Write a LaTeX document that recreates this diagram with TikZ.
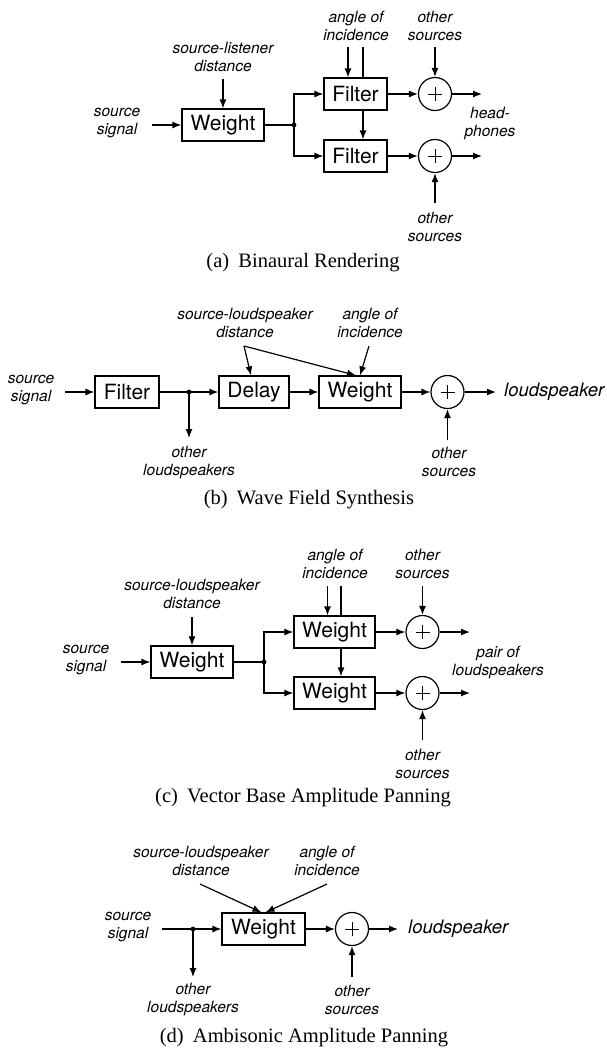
\documentclass[tikz,border=0pt]{standalone}
\usepackage{fontspec}
\setmainfont{Liberation Serif}
\setsansfont{TeX Gyre Heros}
\usetikzlibrary{arrows.meta}
\tikzset{
  lbl/.style={font=\fontsize{15.5}{18}\selectfont\sffamily\itshape, align=center, inner sep=0pt},
  biglbl/.style={font=\fontsize{18.5}{22}\selectfont\sffamily\itshape, inner sep=0pt, anchor=west},
  blk/.style={draw, line width=1.2pt, minimum height=32pt, inner sep=0pt, font=\fontsize{21}{24}\selectfont\sffamily},
  sumc/.style={draw, circle, line width=1.2pt, minimum size=33pt, inner sep=0pt},
  jdot/.style={circle, fill, minimum size=4.8pt, inner sep=0pt},
  capt/.style={font=\fontsize{20.5}{24}\selectfont, inner sep=0pt},
  arr/.style={line width=1.2pt, -{Latex[length=9pt,width=7pt]}},
  ln/.style={line width=1.2pt},
  plus/.style={line width=0.6pt}
}
\newcommand{\plussign}[1]{\draw[plus] (#1.center) +(-7,0) -- +(7,0) (#1.center) +(0,-7) -- +(0,7);}
\begin{document}
\begin{tikzpicture}[x=1pt,y=-1pt]
\useasboundingbox (0,0) rectangle (606,1050);
% ---------------- (a)
\node[lbl] (ssA) at (117,123) {source\\signal};
\node[blk, minimum width=82pt] (WA) at (223,125) {Weight};
\node[lbl] (dA) at (223,57) {source-listener\\distance};
\node[jdot] (jA) at (294,125) {};
\node[blk, minimum width=63pt] (FA1) at (355.5,94) {Filter};
\node[blk, minimum width=63pt] (FA2) at (355.5,156) {Filter};
\node[lbl] (angA) at (356,26) {angle of\\incidence};
\node[lbl] (osA1) at (435,26) {other\\sources};
\node[sumc] (SA1) at (435,94) {};
\node[sumc] (SA2) at (435,156) {};
\node[lbl] (osA2) at (435,227) {other\\sources};
\node[lbl] (hp) at (490,123) {head-\\phones};
\node[capt] (capA) at (303,263) {(a)\hspace{0.45em}Binaural Rendering};
\plussign{SA1}\plussign{SA2}
\coordinate (ssAo) at (152,125);
\coordinate (dAo) at (223,79);
\coordinate (angA1) at (348,47);
\coordinate (angA2) at (363,47);
\coordinate (osA1o) at (435,47);
\coordinate (osA2o) at (435,203);
\coordinate (outA1) at (482,94);
\coordinate (outA2) at (482,156);
\draw[arr] (ssAo) -- (WA.west);
\draw[arr] (dAo) -- (WA.north);
\draw[ln] (WA.east) -- (jA.center);
\draw[arr] (jA.center) |- (FA1.west);
\draw[arr] (jA.center) |- (FA2.west);
\draw[arr] (angA1) -- (angA1 |- FA1.north);
\draw[ln] (angA2) -- (angA2 |- FA1.north);
\draw[arr] (angA2 |- FA1.south) -- (angA2 |- FA2.north);
\draw[arr] (osA1o) -- (SA1.north);
\draw[arr] (osA2o) -- (SA2.south);
\draw[arr] (FA1.east) -- (SA1.west);
\draw[arr] (FA2.east) -- (SA2.west);
\draw[arr] (SA1.east) -- (outA1);
\draw[arr] (SA2.east) -- (outA2);
% ---------------- (b)
\node[lbl] (ssB) at (31,390) {source\\signal};
\node[blk, minimum width=64pt] (FB) at (127,392) {Filter};
\node[jdot] (jB) at (189,392) {};
\node[blk, minimum width=70pt] (DB) at (254,392) {Delay};
\node[blk, minimum width=82pt] (WB) at (360,392) {Weight};
\node[sumc] (SB) at (447.5,392) {};
\node[biglbl] (lsB) at (504,392) {loudspeaker};
\node[lbl] (olB) at (189,462) {other\\loudspeakers};
\node[lbl] (osB) at (449,462) {other\\sources};
\node[lbl] (sldB) at (245,323) {source-loudspeaker\\distance};
\node[lbl] (angB) at (370,323) {angle of\\incidence};
\node[capt] (capB) at (309,500) {(b)\hspace{0.45em}Wave Field Synthesis};
\plussign{SB}
\coordinate (ssBo) at (65,392);
\coordinate (olBo) at (189,438);
\coordinate (osBo) at (447.5,440);
\coordinate (outB) at (496,392);
\coordinate (sldBo) at (244,346);
\coordinate (angBo) at (369,346);
\draw[arr] (ssBo) -- (FB.west);
\draw[ln] (FB.east) -- (jB.center);
\draw[arr] (jB.center) -- (DB.west);
\draw[arr] (jB.center) -- (olBo);
\draw[arr] (DB.east) -- (WB.west);
\draw[arr] (WB.east) -- (SB.west);
\draw[arr] (SB.east) -- (outB);
\draw[arr] (osBo) -- (SB.south);
\draw[arr] (sldBo) -- ([xshift=-3pt]DB.north);
\draw[arr] (sldBo) -- ([xshift=-4pt]WB.north);
\draw[arr] (angBo) -- ([xshift=0pt]WB.north);
% ---------------- (c)
\node[lbl] (ssC) at (86,660) {source\\signal};
\node[blk, minimum width=82pt] (WC) at (192,662) {Weight};
\node[lbl] (dC) at (192,594) {source-loudspeaker\\distance};
\node[jdot] (jC) at (264,662) {};
\node[blk, minimum width=81pt] (WC1) at (334.5,632) {Weight};
\node[blk, minimum width=81pt] (WC2) at (334.5,693) {Weight};
\node[lbl] (angC) at (335,564) {angle of\\incidence};
\node[lbl] (osC1) at (422.5,564) {other\\sources};
\node[sumc] (SC1) at (422.5,632) {};
\node[sumc] (SC2) at (422.5,693) {};
\node[lbl] (osC2) at (422.5,764) {other\\sources};
\node[lbl] (pl) at (498,662) {pair of\\loudspeakers};
\node[capt] (capC) at (303,798) {(c)\hspace{0.45em}Vector Base Amplitude Panning};
\plussign{SC1}\plussign{SC2}
\coordinate (ssCo) at (121,662);
\coordinate (dCo) at (192,617);
\coordinate (angC1) at (327.5,586);
\coordinate (angC2) at (341,586);
\coordinate (osC1o) at (422.5,586);
\coordinate (osC2o) at (422.5,740);
\coordinate (outC1) at (470,632);
\coordinate (outC2) at (470,693);
\draw[arr] (ssCo) -- (WC.west);
\draw[arr] (dCo) -- (WC.north);
\draw[ln] (WC.east) -- (jC.center);
\draw[arr] (jC.center) |- (WC1.west);
\draw[arr] (jC.center) |- (WC2.west);
\draw[arr] (angC1) -- (angC1 |- WC1.north);
\draw[ln] (angC2) -- (angC2 |- WC1.north);
\draw[arr] (angC2 |- WC1.south) -- (angC2 |- WC2.north);
\draw[arr] (osC1o) -- (SC1.north);
\draw[arr] (osC2o) -- (SC2.south);
\draw[arr] (WC1.east) -- (SC1.west);
\draw[arr] (WC2.east) -- (SC2.west);
\draw[arr] (SC1.east) -- (outC1);
\draw[arr] (SC2.east) -- (outC2);
% ---------------- (d)
\node[lbl] (ssD) at (128,927) {source\\signal};
\node[jdot] (jD) at (193,929) {};
\node[blk, minimum width=83pt] (WD) at (263.5,929) {Weight};
\node[sumc] (SD) at (352,929) {};
\node[biglbl] (lsD) at (408,929) {loudspeaker};
\node[lbl] (olD) at (193,999) {other\\loudspeakers};
\node[lbl] (osD) at (352,1000) {other\\sources};
\node[lbl] (sldD) at (201,861) {source-loudspeaker\\distance};
\node[lbl] (angD) at (327,861) {angle of\\incidence};
\node[capt] (capD) at (304,1038) {(d)\hspace{0.45em}Ambisonic Amplitude Panning};
\plussign{SD}
\coordinate (ssDo) at (162,929);
\coordinate (olDo) at (193,977);
\coordinate (osDo) at (352,977);
\coordinate (outD) at (398,929);
\coordinate (sldDo) at (200,884);
\coordinate (angDo) at (327,884);
\draw[ln] (ssDo) -- (jD.center);
\draw[arr] (jD.center) -- (WD.west);
\draw[arr] (jD.center) -- (olDo);
\draw[arr] (WD.east) -- (SD.west);
\draw[arr] (SD.east) -- (outD);
\draw[arr] (osDo) -- (SD.south);
\draw[arr] (sldDo) -- ([xshift=-2pt]WD.north);
\draw[arr] (angDo) -- ([xshift=2pt]WD.north);
\end{tikzpicture}
\end{document}
